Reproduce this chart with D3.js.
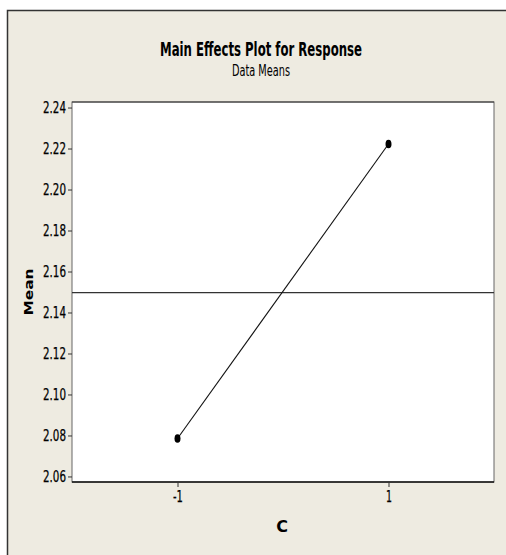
<!DOCTYPE html>
<html>
<head>
<meta charset="utf-8">
<script src="https://cdn.jsdelivr.net/npm/d3@7"></script>
<style>
  html, body { margin: 0; background: #fff; overflow: hidden; }
  svg { display: block; }
  text { font-family: "DejaVu Sans Condensed", "Liberation Sans", sans-serif; }
</style>
</head>
<body>
<div id="chart"></div>
<script>
// data
var levels = [-1, 1];
var means = [2.0785, 2.2222];
var grandMean = 2.1497;
var yTicks = [2.06, 2.08, 2.10, 2.12, 2.14, 2.16, 2.18, 2.20, 2.22, 2.24];

var svgWidth = 506;
var svgHeight = 555;

// plot box inside the beige frame
var margin = { top: 102, right: 12, bottom: 73, left: 72 };
var width = svgWidth - margin.left - margin.right;
var height = svgHeight - margin.top - margin.bottom;

var svg = d3.select("#chart")
  .append("svg")
  .attr("width", svgWidth)
  .attr("height", svgHeight);

// outer frame: beige fill, border only on top and left (rest is cut off)
svg.append("rect")
  .attr("x", 7)
  .attr("y", 10)
  .attr("width", svgWidth - 7)
  .attr("height", svgHeight - 10)
  .attr("fill", "#eeebe1");
svg.append("path")
  .attr("d", `M7.5,${svgHeight} V10.5 H${svgWidth}`)
  .attr("fill", "none")
  .attr("stroke", "#333")
  .attr("stroke-width", 1.5);

// titles
svg.append("text")
  .attr("x", 261)
  .attr("y", 56)
  .attr("text-anchor", "middle")
  .style("font-size", "19px")
  .attr("font-weight", "bold")
  .attr("fill", "#000")
  .attr("textLength", 202)
  .attr("lengthAdjust", "spacingAndGlyphs")
  .text("Main Effects Plot for Response");

svg.append("text")
  .attr("x", 261)
  .attr("y", 76)
  .attr("text-anchor", "middle")
  .style("font-size", "15px")
  .attr("fill", "#000")
  .attr("textLength", 58)
  .attr("lengthAdjust", "spacingAndGlyphs")
  .text("Data Means");

var chartGroup = svg.append("g")
  .attr("transform", `translate(${margin.left}, ${margin.top})`);

var xScale = d3.scaleLinear()
  .domain([-2, 2])
  .range([0, width]);

var yScale = d3.scaleLinear()
  .domain([2.0573, 2.2427])
  .range([height, 0]);

// white plot area
chartGroup.append("rect")
  .attr("width", width)
  .attr("height", height)
  .attr("fill", "#fff")
  .attr("stroke", "#666")
  .attr("stroke-width", 1);

// darker top and bottom edges
chartGroup.append("line")
  .attr("x1", 0).attr("x2", width)
  .attr("y1", 0).attr("y2", 0)
  .attr("stroke", "#333")
  .attr("stroke-width", 1.2);
chartGroup.append("line")
  .attr("x1", 0).attr("x2", width)
  .attr("y1", height).attr("y2", height)
  .attr("stroke", "#111")
  .attr("stroke-width", 1.5);

// axes
var leftAxis = d3.axisLeft(yScale)
  .tickValues(yTicks)
  .tickFormat(d3.format(".2f"))
  .tickSize(4)
  .tickSizeOuter(0)
  .tickPadding(2);

var bottomAxis = d3.axisBottom(xScale)
  .tickValues(levels)
  .tickFormat(d3.format("d"))
  .tickSize(5)
  .tickSizeOuter(0)
  .tickPadding(4);

var yAxis = chartGroup.append("g").call(leftAxis);
var xAxis = chartGroup.append("g")
  .attr("transform", `translate(0, ${height})`)
  .call(bottomAxis);

[yAxis, xAxis].forEach(function(ax) {
  ax.attr("font-family", null).attr("font-size", null);
  ax.select(".domain").remove();
  ax.selectAll(".tick line").attr("stroke", "#333");
  ax.selectAll(".tick text")
    .attr("fill", "#000")
    .attr("stroke", "#000")
    .attr("stroke-width", 0.25)
    .style("font-size", "15px");
});

// squeeze tick labels to the narrow look of the original
yAxis.selectAll(".tick text")
  .attr("textLength", 23)
  .attr("lengthAdjust", "spacingAndGlyphs");
xAxis.selectAll(".tick text")
  .text(function(d) { return d < 0 ? "-" + Math.abs(d) : d; })
  .attr("textLength", function(d) { return d < 0 ? 10 : 6; })
  .attr("lengthAdjust", "spacingAndGlyphs");

// grand mean reference line
chartGroup.append("line")
  .attr("x1", 0)
  .attr("x2", width)
  .attr("y1", yScale(grandMean))
  .attr("y2", yScale(grandMean))
  .attr("stroke", "#333")
  .attr("stroke-width", 1.2);

// means line
var line = d3.line()
  .x(function(d, i) { return xScale(levels[i]); })
  .y(function(d) { return yScale(d); });

chartGroup.append("path")
  .datum(means)
  .attr("d", line)
  .attr("fill", "none")
  .attr("stroke", "#111")
  .attr("stroke-width", 1.1);

// points
chartGroup.selectAll("ellipse")
  .data(means)
  .enter()
  .append("ellipse")
  .attr("cx", function(d, i) { return xScale(levels[i]); })
  .attr("cy", function(d) { return yScale(d); })
  .attr("rx", 3)
  .attr("ry", 4.3)
  .attr("fill", "#000");

// axis titles
svg.append("text")
  .attr("x", 282)
  .attr("y", 532)
  .attr("text-anchor", "middle")
  .style("font-size", "16px")
  .attr("font-weight", "bold")
  .style("font-family", "DejaVu Sans, sans-serif")
  .text("C");

svg.append("text")
  .attr("transform", "translate(33, 292) rotate(-90)")
  .attr("text-anchor", "middle")
  .style("font-size", "12px")
  .attr("font-weight", "bold")
  .style("font-family", "DejaVu Sans, sans-serif")
  .attr("textLength", 47)
  .attr("lengthAdjust", "spacingAndGlyphs")
  .text("Mean");
</script>
</body>
</html>
